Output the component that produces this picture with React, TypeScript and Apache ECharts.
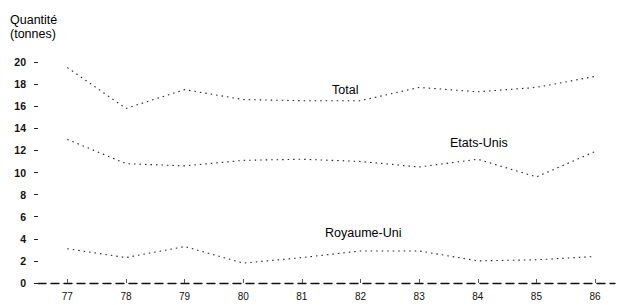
import React, { useEffect, useRef } from "react";
import * as echarts from "echarts";

const years = [77, 78, 79, 80, 81, 82, 83, 84, 85, 86];
const yTicks = [0, 2, 4, 6, 8, 10, 12, 14, 16, 18, 20];
const total = [19.5, 15.8, 17.5, 16.6, 16.5, 16.5, 17.7, 17.3, 17.7, 18.7];
const etatsUnis = [13.0, 10.8, 10.6, 11.1, 11.2, 11.0, 10.5, 11.2, 9.6, 11.9];
const royaumeUni = [3.1, 2.3, 3.3, 1.8, 2.3, 2.9, 2.9, 2.0, 2.1, 2.4];

const FONT = "Liberation Sans, Arial, sans-serif";

export default function App() {
  const ref = useRef<HTMLDivElement>(null);
  useEffect(() => {
    if (!ref.current) return;
    const chart = echarts.init(ref.current, null, { renderer: "svg" });
    const lineStyle = { color: "#222", width: 1.1, type: [1.5, 4] as any };
    const mk = (name: string, vals: number[]) => ({
      name,
      type: "line",
      data: years.map((y, i) => [y, vals[i]]),
      showSymbol: false,
      lineStyle,
      silent: true,
    });
    chart.setOption({
      animation: false,
      backgroundColor: "#fff",
      title: {
        text: "Quantité\n(tonnes)",
        left: 5,
        top: 8,
        textStyle: {
          fontFamily: FONT,
          fontSize: 12.5,
          fontWeight: "normal",
          color: "#000",
          lineHeight: 14,
        },
      },
      grid: { left: 38, right: 3, top: 62, bottom: 22 },
      xAxis: {
        type: "value",
        min: 76.5,
        max: 86.34,
        splitLine: { show: false },
        axisLine: {
          show: true,
          onZero: false,
          lineStyle: { color: "#111", width: 1.4, type: [8, 5] },
        },
        axisTick: {
          show: true,
          inside: true,
          length: 4,
          customValues: years,
          lineStyle: { color: "#555" },
        },
        axisLabel: {
          customValues: years,
          margin: 8,
          fontFamily: FONT,
          fontSize: 10,
          color: "#111",
          formatter: (v: number) => String(v),
        },
      },
      yAxis: {
        type: "value",
        min: 0,
        max: 20,
        interval: 2,
        splitLine: { show: false },
        axisLine: { show: false },
        axisTick: { show: true, length: 4, lineStyle: { color: "#222" } },
        axisLabel: {
          margin: 12,
          fontFamily: FONT,
          fontSize: 10.5,
          fontWeight: "bold",
          color: "#111",
          customValues: yTicks,
        },
      },
      graphic: [
        {
          type: "text",
          left: 332,
          top: 83,
          style: { text: "Total", font: `12.5px ${FONT}`, fill: "#000" },
        },
        {
          type: "text",
          left: 450,
          top: 136,
          style: { text: "Etats-Unis", font: `12.5px ${FONT}`, fill: "#000" },
        },
        {
          type: "text",
          left: 325,
          top: 226,
          style: { text: "Royaume-Uni", font: `12.5px ${FONT}`, fill: "#000" },
        },
      ],
      series: [
        mk("Total", total),
        mk("Etats-Unis", etatsUnis),
        mk("Royaume-Uni", royaumeUni),
      ],
    });
    return () => chart.dispose();
  }, []);
  return (
    <div
      ref={ref}
      style={{ position: "fixed", left: 0, top: 0, width: 618, height: 305 }}
    />
  );
}
